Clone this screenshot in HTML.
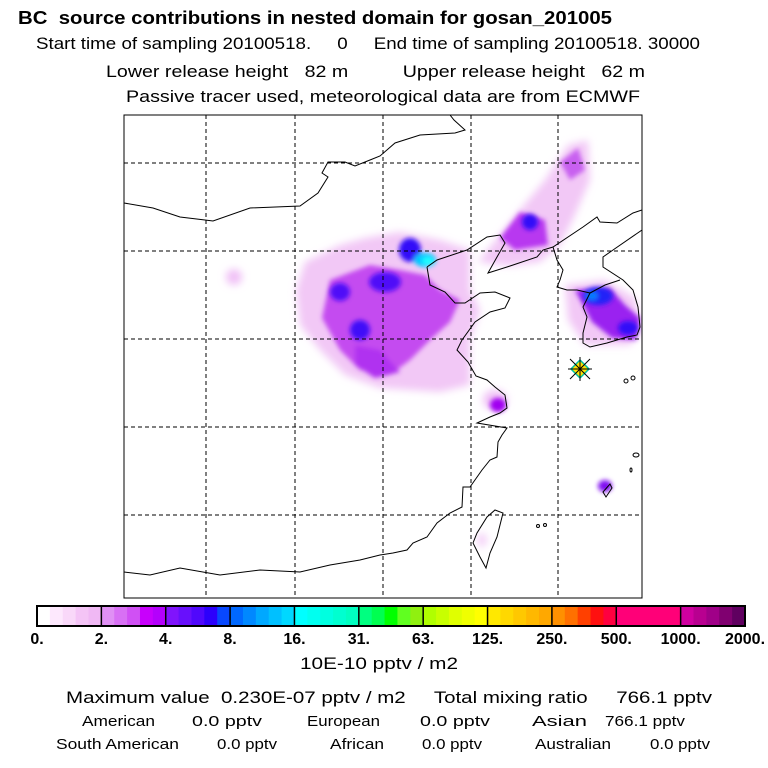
<!DOCTYPE html>
<html><head><meta charset="utf-8"><style>
body{margin:0;background:#fff;width:768px;height:768px;overflow:hidden;font-family:"Liberation Sans",Arial,sans-serif;}
svg{position:absolute;left:0;top:0}
text{white-space:pre}
</style></head><body>
<svg width="768" height="768" viewBox="0 0 768 768" xml:space="preserve">
<defs>
<filter id="bl" x="-50%" y="-50%" width="200%" height="200%"><feGaussianBlur stdDeviation="4"/></filter>
<filter id="bl2" x="-50%" y="-50%" width="200%" height="200%"><feGaussianBlur stdDeviation="2.5"/></filter>
<clipPath id="fr"><rect x="124" y="115" width="518" height="483"/></clipPath>
</defs>
<g font-size="17" fill="#000">
<text x="18" y="24" font-weight="bold" font-size="18" textLength="594" lengthAdjust="spacingAndGlyphs">BC  source contributions in nested domain for gosan_201005</text>
<text x="36" y="49" textLength="664" lengthAdjust="spacingAndGlyphs">Start time of sampling 20100518.     0     End time of sampling 20100518. 30000</text>
<text x="106" y="77" textLength="539" lengthAdjust="spacingAndGlyphs">Lower release height   82 m          Upper release height   62 m</text>
<text x="126" y="102" textLength="514" lengthAdjust="spacingAndGlyphs">Passive tracer used, meteorological data are from ECMWF</text>
</g>
<g clip-path="url(#fr)">
<g filter="url(#bl)">
<polygon points="305,262 340,245 365,238 400,232 440,240 470,250 470,290 480,310 470,340 470,385 440,392 380,388 345,375 320,350 300,325 296,290" fill="#f2c8f6"/>
<polygon points="478,262 500,235 520,210 545,180 568,145 588,140 590,180 575,215 560,245 540,262 510,266" fill="#f2c8f6"/>
<polygon points="565,285 605,280 635,298 642,330 630,345 585,345 568,320" fill="#f2c8f6"/>
<ellipse cx="495" cy="400" rx="12" ry="10" fill="#f0c0f6"/>
<ellipse cx="234" cy="277" rx="8" ry="8" fill="#f0c0f6"/>
<ellipse cx="482" cy="540" rx="5" ry="7" fill="#f4d0f8"/>
</g>
<g filter="url(#bl2)">
<polygon points="330,280 370,265 400,270 425,275 440,290 460,300 450,322 430,340 410,360 390,375 360,370 340,350 322,318" fill="#c44cf0"/>
<polygon points="355,345 380,350 400,372 375,378 355,365" fill="#b030f0"/>
<polygon points="500,238 520,212 545,220 548,245 515,250" fill="#b838f0"/>
<polygon points="560,162 578,148 585,170 570,180" fill="#c860f0"/>
<polygon points="575,290 610,288 625,305 640,318 636,340 612,338 592,322" fill="#9a20f0"/>
<ellipse cx="498" cy="405" rx="8" ry="7" fill="#a000f0"/>
<ellipse cx="605" cy="486" rx="7" ry="6" fill="#8010f0"/>
</g>
<g filter="url(#bl2)">
<ellipse cx="410" cy="250" rx="11" ry="12" fill="#3010f8"/>
<ellipse cx="385" cy="282" rx="16" ry="10" fill="#5010f8"/>
<ellipse cx="340" cy="292" rx="10" ry="9" fill="#5010f8"/>
<ellipse cx="360" cy="330" rx="10" ry="10" fill="#4010f8"/>
<ellipse cx="530" cy="222" rx="8" ry="8" fill="#3010f8"/>
<ellipse cx="598" cy="296" rx="15" ry="9" fill="#2020f8"/>
<ellipse cx="628" cy="328" rx="10" ry="7" fill="#3010f8"/>
<ellipse cx="425" cy="260" rx="11" ry="7" fill="#00c8ff"/>
<ellipse cx="428" cy="261" rx="6" ry="4" fill="#20ffff"/>
<ellipse cx="592" cy="296" rx="6" ry="4" fill="#0080ff"/>
</g>
</g>
<g stroke="#000" stroke-dasharray="4,3" stroke-width="1">
<line x1="206" y1="115" x2="206" y2="598"/><line x1="295" y1="115" x2="295" y2="598"/>
<line x1="383" y1="115" x2="383" y2="598"/><line x1="471" y1="115" x2="471" y2="598"/>
<line x1="558" y1="115" x2="558" y2="598"/>
<line x1="124" y1="163" x2="642" y2="163"/><line x1="124" y1="251" x2="642" y2="251"/>
<line x1="124" y1="339" x2="642" y2="339"/><line x1="124" y1="427" x2="642" y2="427"/>
<line x1="124" y1="515" x2="642" y2="515"/>
</g>
<g fill="none" stroke="#000" stroke-width="1" clip-path="url(#fr)">
<polyline points="124,203 153,208 180,217 205,220 213,221 250,208 300,206 318,193 328,177 322,173 328,162 345,162 355,166 370,160 380,156 395,143 420,135 455,133 465,130 454,120 450,115"/>
<polyline points="427,267 437,260 467,250 487,237 500,235 505,243 497,257 488,273 507,267 537,257 543,250 553,247 583,227 597,217 600,222 617,223 633,213 642,210"/>
<polyline points="427,267 430,285 445,292 455,303 465,303 480,293 495,292 510,298 505,308 490,312 475,322 462,340 457,350 468,362 476,376 487,380 495,387 505,395 507,408 500,413 490,417 477,423 507,428 502,435 498,442 497,457 490,460 482,470 470,487 463,487 462,507 450,513 437,523 427,537 413,543 407,550 393,553 380,555 360,560 330,565 300,572 260,570 220,575 180,568 150,575 124,572"/>
<polyline points="553,247 557,260 563,270 560,280 557,287 567,290 577,290 590,293 583,307 587,317 583,333 583,343 590,347 607,343 617,340 627,337 637,335 640,327 638,307 633,290 623,280 603,267 603,257 613,250 642,230"/>
<polyline points="590,293 605,285 620,280"/>
<polygon points="495,510 503,513 497,537 490,553 486,568 480,557 473,543 477,533 487,517"/>
<polygon points="603,492 610,484 612,488 606,497"/>
<ellipse cx="636" cy="455" rx="3" ry="2"/><ellipse cx="631" cy="470" rx="1" ry="2"/>
<ellipse cx="538" cy="526" rx="1.5" ry="1.5"/><ellipse cx="545" cy="525" rx="1.5" ry="1.5"/>
<ellipse cx="633" cy="378" rx="2" ry="2"/><ellipse cx="626" cy="381" rx="2" ry="2"/>
</g>
<g>
<polygon points="580,360 589,369 580,378 571,369" fill="#ffe000" stroke="#00c0a0" stroke-width="1.5"/>
<g stroke="#000" stroke-width="1"><line x1="568" y1="369" x2="592" y2="369"/><line x1="580" y1="357" x2="580" y2="381"/><line x1="570" y1="359" x2="590" y2="379"/><line x1="590" y1="359" x2="570" y2="379"/></g>
</g>
<rect x="124" y="115" width="518" height="483" fill="none" stroke="#000" stroke-width="1"/>
<g id="cbar"></g>
<text x="300" y="669" font-size="17" textLength="158" lengthAdjust="spacingAndGlyphs">10E-10 pptv / m2</text>
<g font-size="17">
<text x="66" y="703" textLength="646" lengthAdjust="spacingAndGlyphs">Maximum value  0.230E-07 pptv / m2     Total mixing ratio     766.1 pptv</text>
</g>
<g font-size="15" lengthAdjust="spacingAndGlyphs">
<text x="82" y="726" textLength="73" lengthAdjust="spacingAndGlyphs">American</text><text x="192" y="726" textLength="70" lengthAdjust="spacingAndGlyphs">0.0 pptv</text>
<text x="307" y="726" textLength="73" lengthAdjust="spacingAndGlyphs">European</text><text x="420" y="726" textLength="70" lengthAdjust="spacingAndGlyphs">0.0 pptv</text>
<text x="532" y="726" textLength="55" lengthAdjust="spacingAndGlyphs">Asian</text><text x="605" y="726" textLength="80" lengthAdjust="spacingAndGlyphs">766.1 pptv</text>
<text x="56" y="749" textLength="123" lengthAdjust="spacingAndGlyphs">South American</text><text x="217" y="749" textLength="60" lengthAdjust="spacingAndGlyphs">0.0 pptv</text>
<text x="330" y="749" textLength="54" lengthAdjust="spacingAndGlyphs">African</text><text x="422" y="749" textLength="60" lengthAdjust="spacingAndGlyphs">0.0 pptv</text>
<text x="535" y="749" textLength="76" lengthAdjust="spacingAndGlyphs">Australian</text><text x="650" y="749" textLength="60" lengthAdjust="spacingAndGlyphs">0.0 pptv</text>
</g>
</svg>
<script>
const tickLabels=["0.","2.","4.","8.","16.","31.","63.","125.","250.","500.","1000.","2000."];
const segColors=[
["#ffffff","#fde8fd","#f9d8f9","#f4c4f6","#f0b8f4"],
["#e090f4","#d870f4","#d050f4","#c800fc","#b400fc"],
["#8014fc","#6810fc","#5008fc","#2c00fc","#0848ff"],
["#0068ff","#0088ff","#00a8ff","#00c0ff","#00d8ff"],
["#00ffff","#00fff0","#00ffe0","#00ffd0","#00ffc0"],
["#00ff80","#00ff50","#00ff00","#60ff20","#90f010"],
["#b0ff00","#c8ff00","#e0ff00","#f0ff00","#ffff00"],
["#ffe800","#ffd800","#ffc800","#ffb800","#ffa800"],
["#ff9000","#ff7000","#ff4000","#ff1010","#ff0040"],
["#ff0078","#ff0078","#ff0078","#ff0078","#ff0078"],
["#d000a0","#b80090","#a00088","#800070","#600060"]];
const ns="http://www.w3.org/2000/svg",g=document.getElementById('cbar');
const x0=37,x1=745,y0=606,h=20,sw=(x1-x0)/segColors.length;
segColors.forEach((cols,i)=>{cols.forEach((c,j)=>{const r=document.createElementNS(ns,'rect');


r.setAttribute('x',x0+i*sw+j*sw/cols.length);r.setAttribute('y',y0);r.setAttribute('width',sw/cols.length+0.5);r.setAttribute('height',h);r.setAttribute('fill',c);g.appendChild(r);});});
tickLabels.forEach((t,i)=>{const x=x0+i*sw;
const l=document.createElementNS(ns,'line');


l.setAttribute('x1',x);l.setAttribute('x2',x);l.setAttribute('y1',y0);l.setAttribute('y2',y0+h);l.setAttribute('stroke','#000');l.setAttribute('stroke-width','1.5');g.appendChild(l);
const tx=document.createElementNS(ns,'text');


tx.setAttribute('x',x);tx.setAttribute('y',644);tx.setAttribute('text-anchor','middle');tx.setAttribute('font-size','16');tx.setAttribute('font-weight','bold');tx.textContent=t;g.appendChild(tx);});
const fr=document.createElementNS(ns,'rect');


fr.setAttribute('x',x0);fr.setAttribute('y',y0);fr.setAttribute('width',x1-x0);fr.setAttribute('height',h);fr.setAttribute('fill','none');fr.setAttribute('stroke','#000');fr.setAttribute('stroke-width','2');g.appendChild(fr);
</script>
</body></html>
